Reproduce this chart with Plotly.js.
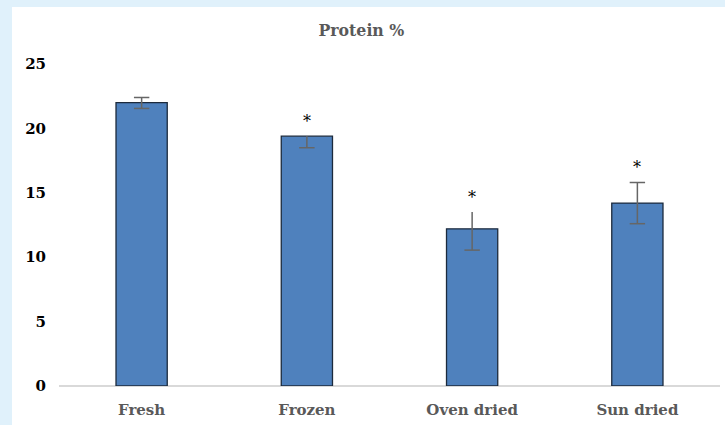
<!DOCTYPE html>
<html>
<head>
<meta charset="utf-8">
<script src="https://cdn.plot.ly/plotly-3.0.1.min.js"></script>
<style>
html,body{margin:0;padding:0;background:#e0f1fb;width:725px;height:425px;overflow:hidden;}
#chart{position:absolute;left:12px;top:7px;width:713px;height:418px;background:#fff;}
</style>
</head>
<body>
<div id="chart"></div>
<script>
const categories = ["Fresh", "Frozen", "Oven dried", "Sun dried"];
const protein = [22.0, 19.4, 12.2, 14.2];
const errPlus = [0.4, 0.0, 1.3, 1.6];
const errMinus = [0.45, 0.9, 1.65, 1.6];
const upperCap = [true, false, false, true];
const significant = [false, true, true, true];
const yTicks = [0, 5, 10, 15, 20, 25];

const serif = "DejaVu Serif, Liberation Serif, serif";
const titleFont = "DejaVu Serif Condensed, DejaVu Serif, serif";

// cap markers built from the error data
const capX = [], capY = [];
categories.forEach((c, i) => {
  capX.push(c); capY.push(protein[i] - errMinus[i]);
  if (upperCap[i]) { capX.push(c); capY.push(protein[i] + errPlus[i]); }
});

const traces = [
  {
    type: "bar",
    x: categories,
    y: protein,
    width: 0.31,
    marker: { color: "#4f81bd", line: { color: "#1c2a3c", width: 1.3 } },
    error_y: { type: "data", array: errPlus, arrayminus: errMinus, symmetric: false,
               visible: true, color: "#666666", thickness: 1.5, width: 0 },
    hoverinfo: "skip"
  },
  {
    type: "scatter",
    mode: "markers",
    x: capX,
    y: capY,
    marker: { symbol: "line-ew", size: 11, line: { color: "#666666", width: 1.5 } },
    hoverinfo: "skip"
  }
];

const annotations = categories.map((c, i) => significant[i] ? {
  x: c, y: protein[i] + errPlus[i], xref: "x", yref: "y",
  text: "*", showarrow: false, yshift: 15,
  font: { family: serif, size: 16, color: "#000" }
} : null).filter(a => a);

const layout = {
  width: 713, height: 418,
  margin: { l: 47, r: 5, t: 57, b: 39 },
  paper_bgcolor: "#ffffff",
  plot_bgcolor: "#ffffff",
  showlegend: false,
  title: { text: "Protein %", x: 0.49, xanchor: "center", y: 0.945, yanchor: "middle",
           font: { family: titleFont, size: 17.5, color: "#595959", weight: "bold" } },
  xaxis: {
    type: "category",
    showgrid: false, zeroline: false,
    showline: false,
    ticks: "",
    ticklabelstandoff: 13,
    tickfont: { family: serif, size: 15, color: "#595959", weight: "bold" }
  },
  yaxis: {
    range: [0, 25],
    tickvals: yTicks,
    ticktext: yTicks.map(String),
    showgrid: false,
    zeroline: true, zerolinecolor: "#d9d9d9", zerolinewidth: 1.3,
    showline: false, ticks: "",
    ticklabelstandoff: 12,
    tickfont: { family: serif, size: 15, color: "#000000", weight: "bold" }
  },
  annotations: annotations
};

Plotly.newPlot("chart", traces, layout, { displayModeBar: false, staticPlot: true });
</script>
</body>
</html>
